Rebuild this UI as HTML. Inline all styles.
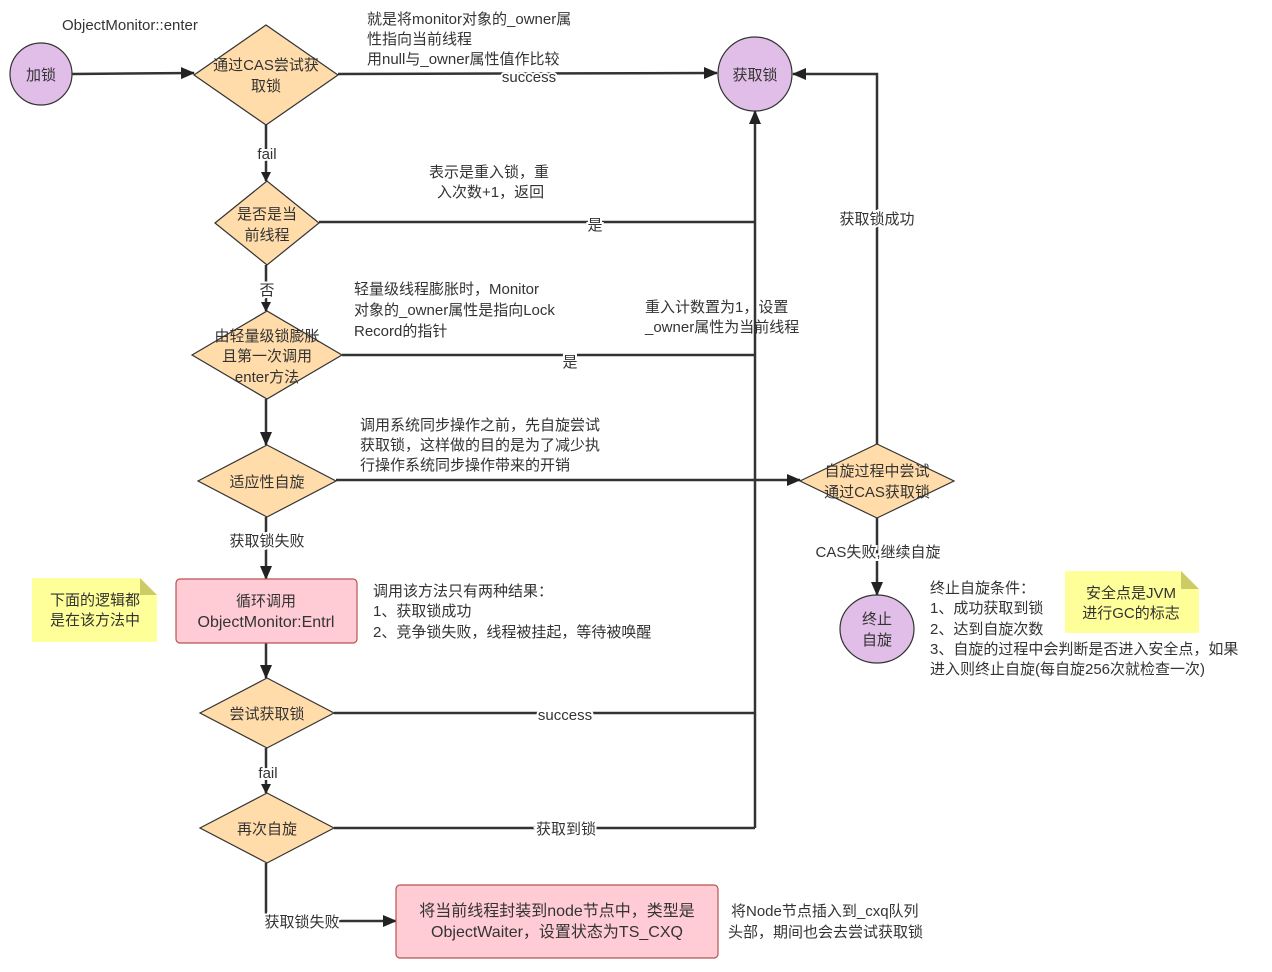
<!DOCTYPE html>
<html><head><meta charset="utf-8"><style>
body{margin:0;background:#fff;}
svg text{font-family:"Liberation Sans","Noto Sans CJK SC",sans-serif;font-size:15px;fill:#333;}
.c{text-anchor:middle;}
.lbl{paint-order:stroke;stroke:#fff;stroke-width:4px;}
</style></head><body>
<svg width="1272" height="967" viewBox="0 0 1272 967" xmlns="http://www.w3.org/2000/svg">
<defs><marker id="a" markerWidth="10" markerHeight="10" refX="9" refY="5" orient="auto" markerUnits="userSpaceOnUse"><path d="M0,0 L10,5 L0,10 z" fill="#222"/></marker>
<marker id="b" markerWidth="14" markerHeight="12" refX="13" refY="6" orient="auto" markerUnits="userSpaceOnUse"><path d="M0,0 L14,6 L0,12 z" fill="#222"/></marker></defs>
<g stroke="#333" stroke-width="2.5" fill="none">
<path d="M72,74 L194,73" marker-end="url(#b)"/>
<path d="M338,74 L717,73" marker-end="url(#b)"/>
<path d="M266,125 L266,181" marker-end="url(#a)"/>
<path d="M319,222 L755,222"/>
<path d="M755,828 L755,111" marker-end="url(#b)"/>
<path d="M266,265 L266,311" marker-end="url(#a)"/>
<path d="M342,355 L755,355"/>
<path d="M266,399 L266,445" marker-end="url(#b)"/>
<path d="M336,480 L800,480" marker-end="url(#b)"/>
<path d="M877,444 L877,74 L793,74" marker-end="url(#b)"/>
<path d="M877,518 L877,595" marker-end="url(#b)"/>
<path d="M266,517 L266,579" marker-end="url(#b)"/>
<path d="M266,643 L266,678" marker-end="url(#b)"/>
<path d="M334,713 L755,713"/>
<path d="M266,748 L266,793" marker-end="url(#a)"/>
<path d="M334,828 L755,828"/>
<path d="M266,863 L266,921 L396,921" marker-end="url(#b)"/>
</g>
<g stroke="#333" stroke-width="1.2">
<circle cx="41" cy="74" r="31" fill="#e1bee7"/>
<circle cx="755" cy="74" r="37" fill="#e1bee7"/>
<ellipse cx="877" cy="629" rx="37" ry="34" fill="#e1bee7"/>
<polygon points="194,75 266,25 338,75 266,125" fill="#ffdcaa"/>
<polygon points="215,223 267,181 319,223 267,265" fill="#ffdcaa"/>
<polygon points="192,355 267,311 342,355 267,399" fill="#ffdcaa"/>
<polygon points="198,481 267,445 336,481 267,517" fill="#ffdcaa"/>
<polygon points="800,481 877,444 954,481 877,518" fill="#ffdcaa"/>
<polygon points="200,713 267,678 334,713 267,748" fill="#ffdcaa"/>
<polygon points="200,828 267,793 334,828 267,863" fill="#ffdcaa"/>
<rect x="176" y="579" width="181" height="64" rx="4" fill="#ffccd5" stroke="#b85450"/>
<rect x="396" y="885" width="322" height="73" rx="4" fill="#ffccd5" stroke="#b85450"/>
</g>
<path d="M32,578 L140,578 L157,595 L157,642 L32,642 z" fill="#ffff99"/>
<path d="M140,578 L140,595 L157,595 z" fill="#cccc66"/>
<path d="M1065,571 L1181,571 L1199,589 L1199,633 L1065,633 z" fill="#ffff99"/>
<path d="M1181,571 L1181,589 L1199,589 z" fill="#cccc66"/>
<text x="62" y="30">ObjectMonitor::enter</text>
<text class="c" x="41" y="80">加锁</text>
<text class="c" x="755" y="80">获取锁</text>
<text class="c" x="266" y="70">通过CAS尝试获</text><text class="c" x="266" y="91">取锁</text>
<text x="367" y="24">就是将monitor对象的_owner属</text>
<text x="367" y="44">性指向当前线程</text>
<text x="367" y="64">用null与_owner属性值作比较</text>
<text class="c lbl" x="529" y="82">success</text>
<text class="c lbl" x="267" y="159">fail</text>
<text class="c" x="267" y="219">是否是当</text><text class="c" x="267" y="240">前线程</text>
<text x="429" y="177">表示是重入锁，重</text><text x="437" y="197">入次数+1，返回</text>
<text class="c lbl" x="595" y="230">是</text>
<text class="c lbl" x="267" y="295">否</text>
<text x="354" y="294">轻量级线程膨胀时，Monitor</text>
<text x="354" y="315">对象的_owner属性是指向Lock</text>
<text x="354" y="336">Record的指针</text>
<text class="c" x="267" y="341">由轻量级锁膨胀</text><text class="c" x="267" y="361">且第一次调用</text><text class="c" x="267" y="382">enter方法</text>
<text x="645" y="312">重入计数置为1，设置</text><text x="645" y="332">_owner属性为当前线程</text>
<text class="c lbl" x="570" y="367">是</text>
<text x="360" y="430">调用系统同步操作之前，先自旋尝试</text>
<text x="360" y="450">获取锁，这样做的目的是为了减少执</text>
<text x="360" y="470">行操作系统同步操作带来的开销</text>
<text class="c" x="267" y="487">适应性自旋</text>
<text class="c" x="877" y="476">自旋过程中尝试</text><text class="c" x="877" y="497">通过CAS获取锁</text>
<text class="c lbl" x="877" y="224">获取锁成功</text>
<text class="c lbl" x="878" y="557">CAS失败,继续自旋</text>
<text class="c lbl" x="267" y="546">获取锁失败</text>
<text class="c" x="877" y="624">终止</text><text class="c" x="877" y="645">自旋</text>
<text x="930" y="593">终止自旋条件：</text>
<text x="930" y="613">1、成功获取到锁</text>
<text x="930" y="634">2、达到自旋次数</text>
<text x="930" y="654">3、自旋的过程中会判断是否进入安全点，如果</text>
<text x="930" y="674">进入则终止自旋(每自旋256次就检查一次)</text>
<text class="c" x="1131" y="598">安全点是JVM</text><text class="c" x="1131" y="618">进行GC的标志</text>
<text class="c" x="95" y="605">下面的逻辑都</text><text class="c" x="95" y="625">是在该方法中</text>
<text class="c" x="266" y="606">循环调用</text><text class="c" x="266" y="627" style="font-size:16px">ObjectMonitor:Entrl</text>
<text x="373" y="596">调用该方法只有两种结果：</text>
<text x="373" y="616">1、获取锁成功</text>
<text x="373" y="637">2、竞争锁失败，线程被挂起，等待被唤醒</text>
<text class="c" x="267" y="719">尝试获取锁</text>
<text class="c lbl" x="565" y="720">success</text>
<text class="c lbl" x="268" y="778">fail</text>
<text class="c" x="267" y="834">再次自旋</text>
<text class="c lbl" x="566" y="834">获取到锁</text>
<text class="c lbl" x="302" y="927">获取锁失败</text>
<text class="c" x="557" y="916" style="font-size:16px">将当前线程封装到node节点中，类型是</text>
<text class="c" x="557" y="937" style="font-size:16px">ObjectWaiter，设置状态为TS_CXQ</text>
<text x="731" y="916">将Node节点插入到_cxq队列</text>
<text x="728" y="937">头部，期间也会去尝试获取锁</text>
</svg>
</body></html>
